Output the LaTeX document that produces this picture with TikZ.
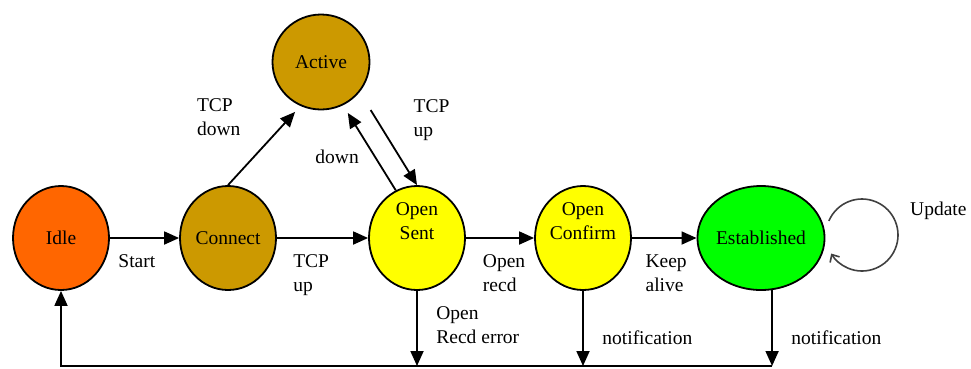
\documentclass[tikz,border=0pt]{standalone}
\usepackage{fontspec}
\setmainfont{Liberation Serif}
\usetikzlibrary{arrows.meta,shapes.geometric}
\definecolor{idlecol}{HTML}{FF6600}
\definecolor{conncol}{HTML}{CC9900}
\definecolor{opencol}{HTML}{FFFF00}
\definecolor{estcol}{HTML}{00FF00}
\tikzset{
  state/.style={draw,ellipse,line width=1.8pt,inner sep=0pt,minimum width=96pt,minimum height=104pt},
  arr/.style={line width=1.8pt,-{Triangle[length=15pt,width=13pt]}},
  lbl/.style={inner sep=0pt,align=left}
}

\begin{document}
\begin{tikzpicture}[x=1pt,y=-1pt,font=\fontsize{19.5}{24}\selectfont]
\useasboundingbox (0,0) rectangle (971,368);

\node[state,fill=idlecol] (idle) at (61,238) {Idle};
\node[state,fill=conncol] (conn) at (228,238) {Connect};
\node[state,fill=conncol,minimum width=97pt,minimum height=95pt] (act) at (321,62) {Active};
\node[state,fill=opencol,label={[align=center,yshift=17pt]center:Open\\Sent}] (sent) at (417,238) {};
\node[state,fill=opencol,label={[align=center,yshift=17pt]center:Open\\Confirm}] (conf) at (583,238) {};
\node[state,fill=estcol,minimum width=118pt] (est) at (761,238) {Established};
\coordinate (bot) at (0,366);

\foreach \a/\b/\p/\t in {idle/conn/.39/Start, conn/sent/.376/{TCP\\up}, sent/conf/.56/{Open\\recd}, conf/est/.53/{Keep\\alive}}
    \draw[arr] (\a) -- node[lbl,pos=\p,below=16pt] {\t} (\b);

\draw[arr,shorten >=8pt] (conn.north) -- node[lbl,pos=.5,anchor=south east,xshift=-23pt,yshift=9pt] {TCP\\down} (act.245);
\draw[arr,shorten >=9pt] (sent.114) -- node[lbl,pos=.4,anchor=east,xshift=-15pt] {down} (act.297);
\draw[arr,shorten <=21pt] (act.322) -- node[lbl,pos=.3,anchor=west,xshift=36pt] {TCP\\up} (sent.north);

\foreach \s/\p/\t in {sent.south/.2/{Open\\Recd error}, conf.south/.52/notification, est.282/.53/notification}
    \draw[arr] (\s) -- node[lbl,pos=\p,anchor=north west,xshift=18.5pt] {\t} (\s |- bot);

\draw[arr] (est.282 |- bot) -- (idle.south |- bot) -- (idle.south);

% update loop
\coordinate (updc) at (862,235);
\draw[line width=1.6pt,black!75,-{Straight Barb[length=6pt,width=11pt]}] ([shift={(157:36pt)}]updc) arc[start angle=157,end angle=-149,radius=36pt];
\node[lbl,anchor=north west] (upd) at (910,202) {Update};
\end{tikzpicture}
\end{document}
